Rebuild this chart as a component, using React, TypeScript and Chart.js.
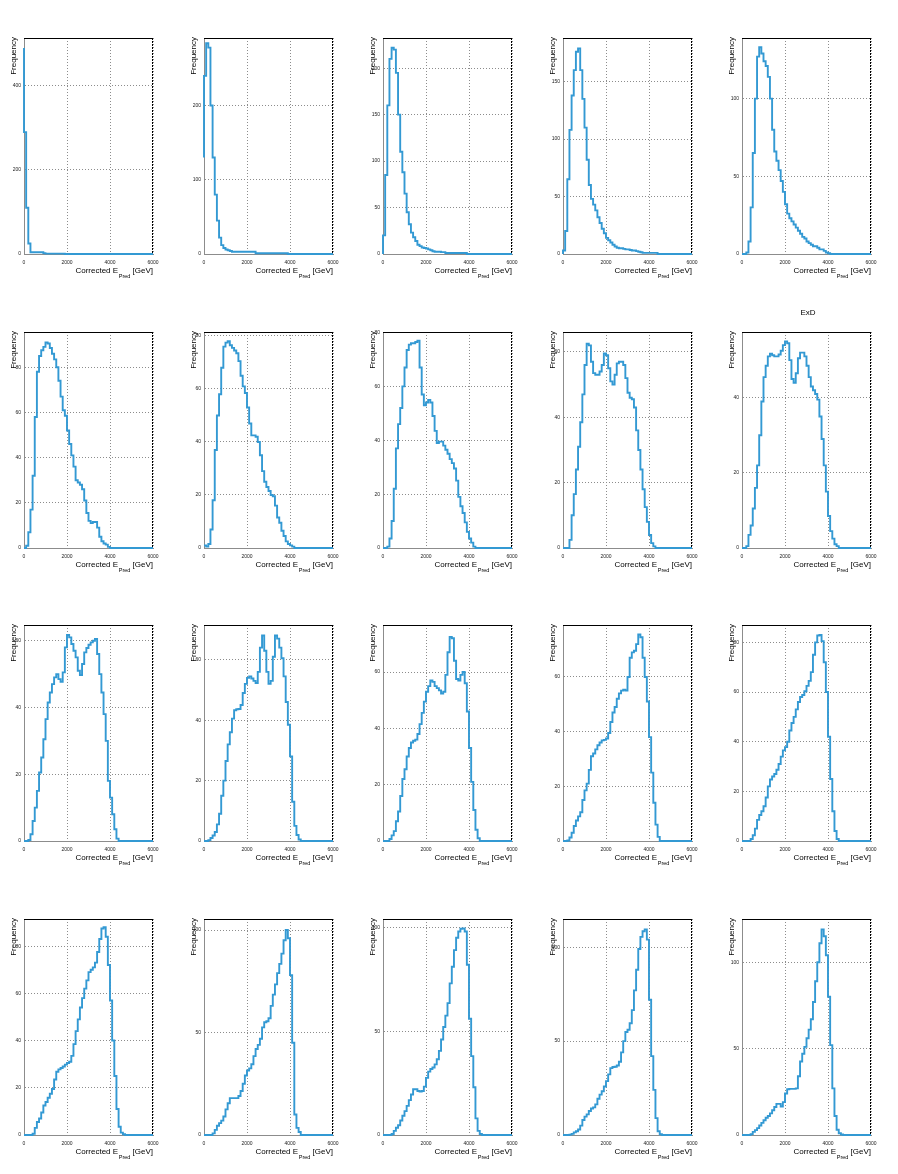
import React, { useEffect, useRef } from 'react';
import { Chart, registerables } from 'chart.js';

Chart.register(...registerables);

// ---------- data ----------
const BIN_WIDTH = 100; // GeV
const X_MAX = 6000;
const X_TICKS = [0, 2000, 4000, 6000];
const Y_TITLE = 'Frequency';
const X_TITLE_MAIN = 'Corrected E';
const X_TITLE_SUB = 'Pred';
const X_TITLE_UNIT = ' [GeV]';

const h01 = [
  490, 290, 110, 25, 4, 4, 4, 4, 4, 4,
  2, 1, 1, 1, 1, 1, 1, 1, 1, 1,
  0, 0, 0, 0, 0, 0, 0, 0, 0, 0,
  0, 0, 0, 0, 0, 0, 0, 0, 0, 0,
  0, 0, 0, 0, 0, 0, 0, 0, 0, 0,
  0, 0, 0, 0, 0, 0, 0, 0, 0, 0,
];
const h02 = [
  130, 240, 284, 278, 200, 130, 80, 45, 22, 12,
  8, 6, 5, 4, 3, 3, 3, 3, 3, 3,
  3, 3, 3, 3, 3, 1, 1, 1, 1, 1,
  1, 1, 1, 1, 1, 1, 1, 1, 1, 1,
  0, 0, 0, 0, 0, 0, 0, 0, 0, 0,
  0, 0, 0, 0, 0, 0, 0, 0, 0, 0,
];
const h03 = [
  0, 20, 85, 160, 210, 222, 220, 195, 150, 110,
  88, 65, 45, 32, 23, 18, 14, 10, 8.5, 7,
  6.5, 6, 5, 4, 3, 2.5, 2.5, 2.5, 2, 2,
  1, 1, 1, 1, 1, 1, 1, 1, 1, 1,
  0, 0, 0, 0, 0, 0, 0, 0, 0, 0,
  0, 0, 0, 0, 0, 0, 0, 0, 0, 0,
];
const h04 = [
  0, 3, 20, 65, 108, 138, 160, 176, 179, 160,
  135, 110, 82, 60, 48, 43, 38, 32, 27, 22,
  18, 14, 12, 10, 8, 6.5, 5.5, 5, 5, 4.5,
  4, 4, 3.5, 3, 3, 2.5, 2, 1.5, 1, 1,
  1, 1, 1, 1, 1, 0, 0, 0, 0, 0,
  0, 0, 0, 0, 0, 0, 0, 0, 0, 0,
];
const h05 = [
  0, 0, 0, 1, 8, 30, 65, 100, 127, 133,
  129, 124, 121, 114, 100, 80, 66, 60, 54, 47,
  40, 32, 26, 23, 21, 19, 17, 15, 13, 11,
  10, 8, 7, 6, 5, 5, 4, 3, 3, 2,
  1, 0.5, 0, 0, 0, 0, 0, 0, 0, 0,
  0, 0, 0, 0, 0, 0, 0, 0, 0, 0,
];
const h06 = [
  0, 0, 1, 7, 17, 32, 58, 78, 85, 87.5,
  89, 91, 90.5, 88.5, 86, 83.5, 80, 74, 67, 61,
  58.5, 52, 46, 41, 36, 30, 29, 28, 26, 21,
  15.5, 12, 11, 11.5, 11.5, 9, 5, 3, 2, 1.5,
  0.5, 0, 0, 0, 0, 0, 0, 0, 0, 0,
  0, 0, 0, 0, 0, 0, 0, 0, 0, 0,
];
const h07 = [
  1, 1, 0.5, 1.5, 7, 18, 37, 50, 58, 68,
  76, 77.5, 78, 76.5, 75.5, 74.5, 73.5, 70.5, 65, 61,
  58.5, 53, 47, 42.5, 42.5, 42, 40, 35, 29, 25,
  23, 21.5, 20, 19.5, 16, 11.5, 9.5, 6.5, 4.5, 2.5,
  1.5, 1, 0.5, 0, 0, 0, 0, 0, 0, 0,
  0, 0, 0, 0, 0, 0, 0, 0, 0, 0,
];
const h08 = [
  0, 0, 0, 0.5, 3.5, 10, 22, 37, 46, 52,
  60, 67, 73.5, 75.5, 76, 76, 76.5, 77, 67, 57,
  53, 54, 55, 54, 49, 43.5, 39, 39.5, 39.5, 38,
  36.5, 35, 33, 31.5, 29.5, 25, 19, 15.5, 13, 9.5,
  6, 3.5, 2, 0.5, 0, 0, 0, 0, 0, 0,
  0, 0, 0, 0, 0, 0, 0, 0, 0, 0,
];
const h09 = [
  0, 0, 0, 0, 2.5, 10, 16.5, 24, 31, 38.5,
  47, 56, 62.5, 62, 57, 53.5, 53, 53, 54, 56,
  59.5, 59, 55, 51, 50, 53, 56.5, 57, 57, 56,
  52, 47.5, 46, 45.5, 43, 36, 30, 24, 18, 12.5,
  8, 4, 1.5, 0.5, 0, 0, 0, 0, 0, 0,
  0, 0, 0, 0, 0, 0, 0, 0, 0, 0,
];
const h10 = [
  0, 0, 0, 0.5, 3.5, 6, 10.5, 16, 22, 30,
  39, 45.5, 48.5, 51, 51.7, 51.3, 51, 51, 51.5, 52.5,
  54, 55, 54.5, 50, 45, 44, 46.5, 50.5, 52, 52,
  51, 48.5, 45.5, 43, 42, 41, 39.5, 35, 29, 22,
  15, 8.5, 4.5, 2.5, 1, 0.5, 0, 0, 0, 0,
  0, 0, 0, 0, 0, 0, 0, 0, 0, 0,
];
const h11 = [
  0, 0, 0, 0.3, 2, 6, 10, 15, 20.5, 25,
  30.5, 36.5, 41.5, 44.5, 47, 49, 50, 48.5, 47.7, 50.5,
  58, 61.7, 61, 59, 57, 55, 51, 49.7, 53, 56.5,
  57.8, 58.8, 59.5, 60, 60.5, 56, 50, 44.5, 38, 30,
  18, 13, 8, 3.5, 0.7, 0, 0, 0, 0, 0,
  0, 0, 0, 0, 0, 0, 0, 0, 0, 0,
];
const h12 = [
  0, 0, 0, 0.3, 1, 1.8, 3, 5.5, 9, 15,
  20, 26.5, 32, 36, 40.5, 43.3, 43.6, 43.7, 45, 49,
  52, 54, 54.5, 53.8, 53, 52.3, 56, 64, 68, 63,
  56, 52, 53, 61, 68, 67, 64, 60.5, 54.5, 46,
  38.5, 28, 13, 5, 2, 0.5, 0, 0, 0, 0,
  0, 0, 0, 0, 0, 0, 0, 0, 0, 0,
];
const h13 = [
  0, 0, 0, 0, 0.7, 2, 3.5, 7, 10.5, 16,
  22, 25.5, 30, 33, 35, 35.6, 36, 38, 41.5, 45.5,
  49.5, 53, 55, 57, 56.5, 55, 54.3, 53.5, 52.4, 53,
  59, 67, 72.5, 72, 64, 57.5, 57, 59, 60, 56,
  46, 33, 21, 11, 4, 1, 0, 0, 0, 0,
  0, 0, 0, 0, 0, 0, 0, 0, 0, 0,
];
const h14 = [
  0, 0, 0, 0.2, 1.3, 3, 5.5, 7.5, 9, 10.5,
  15, 18.5, 21, 26, 31, 32, 33.5, 35, 36, 36.8,
  37, 37.5, 39.5, 43.5, 47, 49, 52, 54, 55, 55.3,
  55, 60, 67, 69, 69.6, 72, 75.5, 74.5, 67, 60,
  51, 38, 25, 14, 6, 1.5, 0, 0, 0, 0,
  0, 0, 0, 0, 0, 0, 0, 0, 0, 0,
];
const h15 = [
  0, 0, 0, 0, 0, 0.8, 2.3, 5, 8.5, 10.5,
  12, 14, 17.5, 22, 24.8, 26, 27, 28.7, 31, 34,
  36.5, 37.8, 40, 44.5, 47.5, 50, 53, 56, 58, 58.8,
  60.3, 62.5, 64.5, 68, 75, 80, 82.8, 83, 80.5, 72,
  60, 42, 25, 12, 4, 0.8, 0, 0, 0, 0,
  0, 0, 0, 0, 0, 0, 0, 0, 0, 0,
];
const h16 = [
  0, 0, 0, 0, 0, 0.5, 3, 5.5, 7, 9.5,
  12.5, 14, 15.8, 17.5, 19.5, 23.5, 26.8, 27.8, 28.4, 29,
  29.8, 30.5, 31, 33.5, 38.5, 44, 49, 54, 58, 62,
  65.5, 69, 70, 71, 73, 77.5, 83, 87.5, 88, 84,
  72, 57, 40, 25, 11, 3.5, 1, 0.3, 0, 0,
  0, 0, 0, 0, 0, 0, 0, 0, 0, 0,
];
const h17 = [
  0, 0, 0, 0, 0, 0.8, 2.5, 4.5, 5.8, 7,
  9, 12.5, 15.5, 18, 18, 18, 18, 19, 21.5, 25,
  29, 31.5, 32.5, 34.5, 38.5, 42, 44, 47, 52.5, 55,
  55.5, 57, 63, 68.5, 73.5, 79, 83.5, 88.5, 95, 100,
  96, 78, 45, 10, 3.5, 1.5, 0, 0, 0, 0,
  0, 0, 0, 0, 0, 0, 0, 0, 0, 0,
];
const h18 = [
  0, 0, 0, 0, 0, 0.5, 2, 3.5, 4.7, 7,
  9.3, 11.5, 14, 16.8, 19.5, 22, 22, 21.2, 20.9, 21.2,
  23.3, 27.5, 30.5, 31.8, 32.5, 34, 36.5, 40.5, 46, 52,
  57.5, 63.5, 73, 81, 89, 95, 98, 99.3, 99.5, 98,
  82, 56, 38, 23, 8, 2, 0.5, 0, 0, 0,
  0, 0, 0, 0, 0, 0, 0, 0, 0, 0,
];
const h19 = [
  0, 0, 0, 0, 0.2, 0.6, 1.4, 2, 2.9, 5,
  8, 9.8, 11, 12.8, 14.1, 14.7, 16.3, 19.3, 21.5, 23.3,
  25.8, 28.7, 32.3, 35.6, 36.2, 36.3, 37, 39, 44, 50,
  54.8, 56, 59.5, 66.5, 77, 88, 99, 105.5, 108.5, 109.5,
  104, 72, 42, 24, 9, 2, 0.4, 0, 0, 0,
  0, 0, 0, 0, 0, 0, 0, 0, 0, 0,
];
const h20 = [
  0, 0, 0, 0, 0, 0.5, 1.8, 2.8, 4, 5.5,
  7, 8.5, 10, 11, 12.5, 14.3, 16.2, 18, 18, 16.5,
  19, 24, 26.5, 26.7, 26.7, 26.7, 27, 34, 42.5, 47,
  51, 56, 61, 67, 77, 89, 100, 111, 119, 115,
  104, 80, 52, 27, 11, 3, 1, 0.3, 0, 0,
  0, 0, 0, 0, 0, 0, 0, 0, 0, 0,
];

const HISTS = [h01, h02, h03, h04, h05, h06, h07, h08, h09, h10, h11, h12, h13, h14, h15, h16, h17, h18, h19, h20];
const Y_MAX = [514, 291, 232.5, 188, 139, 95.6, 81.5, 80.2, 66.1, 57.5, 64.7, 71.5, 76.7, 79, 87, 91.5, 105.4, 104, 115, 125];
const Y_STEP = [200, 100, 50, 50, 50, 20, 20, 20, 20, 20, 20, 20, 20, 20, 20, 20, 50, 50, 50, 50];
const TITLES = ['', '', '', '', '', '', '', '', '', 'ExD', '', '', '', '', '', '', '', '', '', ''];

// ---------- layout / style ----------
const PAGE_W = 898;
const PAGE_H = 1174;
const COLS = 5;
const PAD_W = PAGE_W / COLS;
const PAD_H = PAGE_H / 4;
const CANVAS_W = 180;
const CANVAS_H = 294;
const FONT = '"Liberation Sans", Arial, Helvetica, sans-serif';
const LINE_COLOR = '#3399d3';
const GRID_COLOR = '#8c8c8c';
const AXIS_COLOR = '#8c8c8c';

function makeDecor(title: string) {
  return {
    id: 'rootDecor',
    afterDraw(chart: any) {
      const { ctx, chartArea: a } = chart;
      ctx.save();
      ctx.strokeStyle = '#000';
      ctx.lineWidth = 1;
      ctx.beginPath();
      ctx.moveTo(a.left, a.top + 0.5);
      ctx.lineTo(a.right, a.top + 0.5);
      ctx.stroke();
      ctx.setLineDash([2, 1]);
      ctx.beginPath();
      ctx.moveTo(a.right - 0.5, a.top);
      ctx.lineTo(a.right - 0.5, a.bottom);
      ctx.stroke();
      ctx.setLineDash([]);

      ctx.fillStyle = '#000';
      ctx.save();
      ctx.font = `8px ${FONT}`;
      ctx.translate(14, a.top - 1);
      ctx.rotate(-Math.PI / 2);
      ctx.textAlign = 'right';
      ctx.textBaseline = 'middle';
      ctx.fillText(Y_TITLE, 0, 0);
      ctx.restore();

      const mainFont = `8px ${FONT}`;
      const subFont = `5.5px ${FONT}`;
      ctx.font = mainFont;
      const w1 = ctx.measureText(X_TITLE_MAIN).width;
      const w3 = ctx.measureText(X_TITLE_UNIT).width;
      ctx.font = subFont;
      const w2 = ctx.measureText(X_TITLE_SUB).width;
      const gap = 0.6;
      let x = a.right - (w1 + gap + w2 + w3);
      const y = a.bottom + 16.5;
      ctx.textAlign = 'left';
      ctx.textBaseline = 'middle';
      ctx.font = mainFont;
      ctx.fillText(X_TITLE_MAIN, x, y);
      x += w1 + gap;
      ctx.font = subFont;
      ctx.fillText(X_TITLE_SUB, x, y + 5.5);
      x += w2;
      ctx.font = mainFont;
      ctx.fillText(X_TITLE_UNIT, x, y);

      if (title) {
        ctx.font = `8px ${FONT}`;
        ctx.textAlign = 'center';
        ctx.textBaseline = 'middle';
        ctx.fillText(title, chart.width / 2, 19);
      }
      ctx.restore();
    },
  };
}

function buildChart(canvas: HTMLCanvasElement, idx: number) {
  const hist = HISTS[idx];
  const points = hist.map((v, i) => ({ x: i * BIN_WIDTH, y: v }));
  points.push({ x: hist.length * BIN_WIDTH, y: hist[hist.length - 1] });
  const yMax = Y_MAX[idx];
  const yStep = Y_STEP[idx];
  const yTicks: number[] = [];
  for (let v = 0; v <= yMax + 1e-9; v += yStep) yTicks.push(v);

  const tickFont = { family: FONT, size: 5 };

  return new Chart(canvas, {
    type: 'line',
    data: {
      datasets: [
        {
          data: points,
          borderColor: LINE_COLOR,
          borderWidth: 1.9,
          pointRadius: 0,
          stepped: 'after',
          fill: false,
          tension: 0,
          clip: 4,
        } as any,
      ],
    },
    options: {
      animation: false,
      responsive: false,
      events: [],
      layout: { padding: { left: 0, right: 27, top: 38, bottom: 0 } },
      plugins: {
        legend: { display: false },
        tooltip: { enabled: false },
        title: { display: false },
      },
      scales: {
        x: {
          type: 'linear',
          min: 0,
          max: X_MAX,
          afterBuildTicks: (s: any) => {
            s.ticks = X_TICKS.map((v) => ({ value: v }));
          },
          afterFit: (s: any) => {
            s.height = 40;
          },
          ticks: {
            font: tickFont,
            color: '#222',
            padding: 6,
            maxRotation: 0,
            autoSkip: false,
            callback: (v: any) => String(v),
          },
          grid: { color: GRID_COLOR, lineWidth: 1, drawTicks: false },
          border: { color: AXIS_COLOR, width: 1, dash: [1, 2] },
        },
        y: {
          type: 'linear',
          min: 0,
          max: yMax,
          afterBuildTicks: (s: any) => {
            s.ticks = yTicks.map((v) => ({ value: v }));
          },
          afterFit: (s: any) => {
            s.width = 24;
          },
          ticks: {
            font: tickFont,
            color: '#222',
            padding: 3,
            autoSkip: false,
            callback: (v: any) => String(v),
          },
          grid: { color: GRID_COLOR, lineWidth: 1, drawTicks: false },
          border: { color: AXIS_COLOR, width: 1, dash: [1, 2] },
        },
      },
    } as any,
    plugins: [makeDecor(TITLES[idx])],
  });
}

export default function App() {
  const refs = useRef<(HTMLCanvasElement | null)[]>([]);

  useEffect(() => {
    const charts = HISTS.map((_, i) => buildChart(refs.current[i] as HTMLCanvasElement, i));
    return () => {
      charts.forEach((c) => c.destroy());
    };
  }, []);

  return (
    <div
      style={{
        position: 'absolute',
        left: 0,
        top: 0,
        width: PAGE_W,
        height: PAGE_H,
        background: '#ffffff',
        overflow: 'hidden',
      }}
    >
      {HISTS.map((_, i) => {
        const c = i % COLS;
        const r = Math.floor(i / COLS);
        return (
          <canvas
            key={i}
            ref={(el) => {
              refs.current[i] = el;
            }}
            width={CANVAS_W}
            height={CANVAS_H}
            style={{
              position: 'absolute',
              left: Math.round(c * PAD_W),
              top: Math.round(r * PAD_H),
              width: CANVAS_W,
              height: CANVAS_H,
            }}
          />
        );
      })}
    </div>
  );
}
